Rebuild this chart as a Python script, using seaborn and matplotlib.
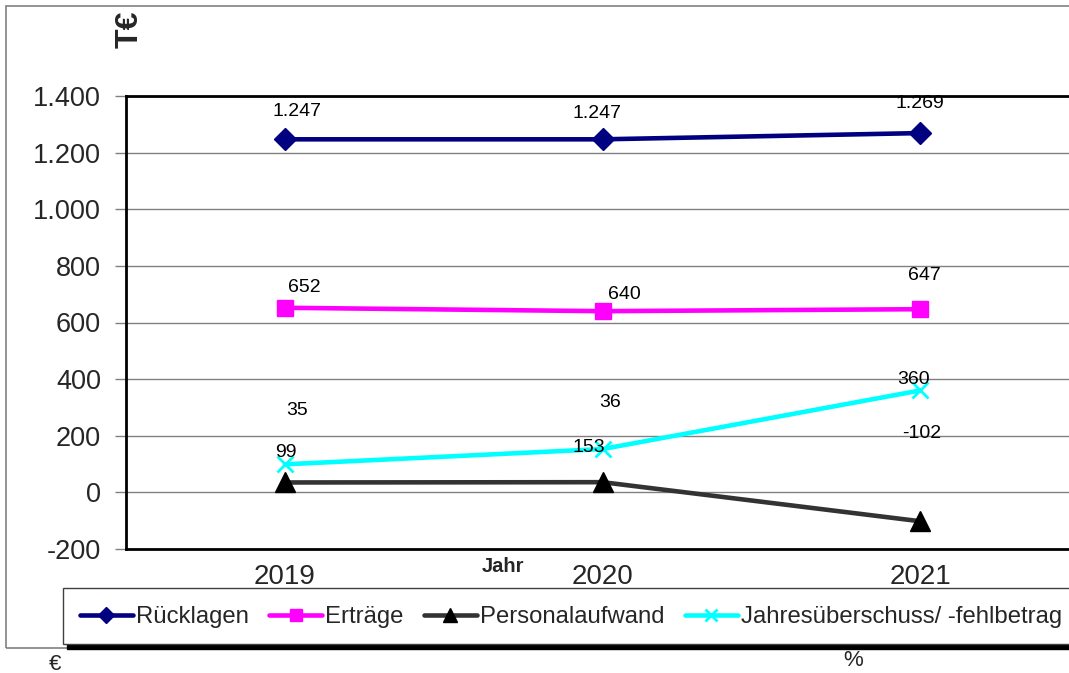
import numpy as np
import pandas as pd
import matplotlib
matplotlib.use("Agg")
import matplotlib.pyplot as plt
from matplotlib.patches import Rectangle
from matplotlib.lines import Line2D
import matplotlib.ticker as mticker
import seaborn as sns

# Daten
jahre = ["2019", "2020", "2021"]
ruecklagen = [1247, 1247, 1269]
ertraege = [652, 640, 647]
personalaufwand = [35, 36, -102]
jahresueberschuss = [99, 153, 360]

serien = ["Rücklagen", "Erträge", "Personalaufwand", "Jahresüberschuss/ -fehlbetrag"]
werte = [ruecklagen, ertraege, personalaufwand, jahresueberschuss]

y_ticks = [-200, 0, 200, 400, 600, 800, 1000, 1200, 1400]

sns.set_theme(style="white")
plt.rcParams["font.family"] = ["Liberation Sans", "DejaVu Sans"]

# Stil je Serie
farben = ["#000080", "#FF00FF", "#333333", "#00FFFF"]
marker = ["D", "s", "^", "x"]
marker_farbe = ["#000080", "#FF00FF", "#000000", "#00FFFF"]
marker_groesse = [11, 12, 14, 12]
# Beschriftungs-Versatz in Pixeln (dx, dy) je Punkt
versatz = [
    [(12, 28), (-5, 26), (0, 30)],
    [(19, 20), (22, 17), (4, 34)],
    [(12, 72), (8, 80), (2, 88)],
    [(1, 12), (-14, 2), (-7, 11)],
]

fig = plt.figure(figsize=(10.69, 6.73), dpi=100)
W, H = 1069, 673

def fx(px):
    return px / W

def fy(py):
    return 1 - py / H

# Außenrahmen
fig.patches.append(Rectangle((fx(6), fy(648)), 1.2, fy(6) - fy(648),
                             transform=fig.transFigure, fill=False,
                             edgecolor="#808080", linewidth=1.2, zorder=0))

ax = fig.add_axes([fx(126), fy(549), fx(1079) - fx(126), fy(96) - fy(549)])
x = np.arange(len(jahre))

for name, w, c, m, mc, ms in zip(serien, werte, farben, marker, marker_farbe, marker_groesse):
    df = pd.DataFrame({"x": x, "y": w})
    sns.lineplot(data=df, x="x", y="y", ax=ax, color=c, linewidth=3.3,
                 marker=m, markersize=ms, markerfacecolor=mc,
                 markeredgecolor=mc, markeredgewidth=2 if m == "x" else 1,
                 legend=False, zorder=3)

for w, off in zip(werte, versatz):
    for xi, v, (dx, dy) in zip(x, w, off):
        ax.annotate(f"{v:,}".replace(",", "."), (xi, v),
                    xytext=(dx * 0.72, dy * 0.72), textcoords="offset points",
                    ha="center", va="center", fontsize=14, color="black",
                    zorder=5)

ax.set_xlim(-0.5, 2.5)
ax.set_ylim(-200, 1400)
ax.set_yticks(y_ticks)
ax.yaxis.set_major_formatter(mticker.FuncFormatter(lambda v, p: f"{int(v):,}".replace(",", ".")))
ax.set_xticks(x)
ax.set_xticklabels(jahre)
ax.set_xticks([0.5, 1.5], minor=True)
ax.tick_params(axis="x", which="major", length=0, pad=11, labelsize=20)
ax.tick_params(axis="x", which="minor", length=9, width=1, color="#808080", direction="out")
ax.tick_params(axis="y", length=8, width=1, color="#808080", direction="out",
               labelsize=19.5, pad=10, left=True)
ax.grid(axis="y", color="#808080", linewidth=1)
ax.set_xlabel("")
ax.set_ylabel("")
for s in ["left", "top", "bottom"]:
    ax.spines[s].set_color("black")
    ax.spines[s].set_linewidth(2)
ax.spines["right"].set_visible(False)

fig.text(fx(503), fy(567), "Jahr", fontsize=14.5, fontweight="bold", ha="center", va="center")
fig.text(fx(130), fy(29), "T€", fontsize=23, fontweight="bold", rotation=90, ha="center", va="center")
fig.text(fx(55), fy(664), "€", fontsize=16, ha="center", va="center")
fig.text(fx(853), fy(660), "%", fontsize=16, ha="center", va="center")

# Legende mit Schatten
fig.patches.append(Rectangle((fx(67), fy(649)), 1.2, fy(600) - fy(649),
                             transform=fig.transFigure, facecolor="black",
                             edgecolor="black", zorder=1))
fig.patches.append(Rectangle((fx(63), fy(644)), 1.2, fy(588) - fy(644),
                             transform=fig.transFigure, facecolor="white",
                             edgecolor="#404040", linewidth=1, zorder=2))
handles = [Line2D([], [], color=c, linewidth=3.3, marker=m, markersize=ms * 0.7,
                  markerfacecolor=mc, markeredgecolor=mc,
                  markeredgewidth=2 if m == "x" else 1)
           for c, m, mc, ms in zip(farben, marker, marker_farbe, marker_groesse)]
leg = fig.legend(handles, serien, loc="center left", bbox_to_anchor=(fx(80), fy(617)),
                 ncol=4, frameon=False, fontsize=17.2, handlelength=2.2,
                 handletextpad=0.15, columnspacing=0.85, borderaxespad=0,
                 borderpad=0)
leg.set_zorder(3)

fig.savefig("out.png", dpi=100)
